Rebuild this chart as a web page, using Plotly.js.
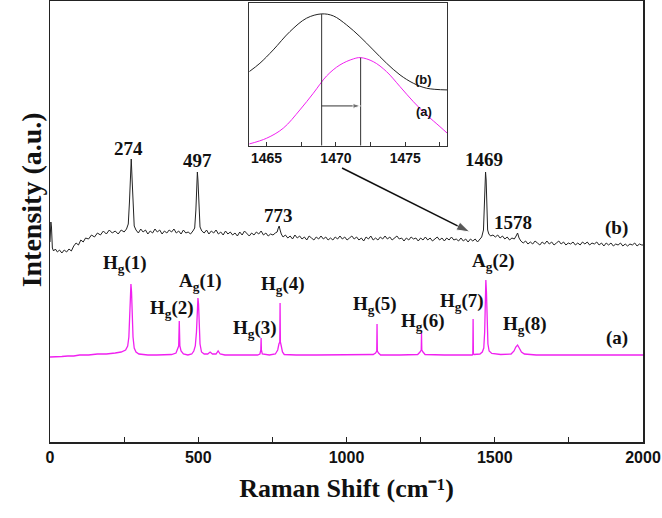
<!DOCTYPE html>
<html>
<head>
<meta charset="utf-8">
<script src="https://cdn.plot.ly/plotly-3.0.1.min.js"></script>
<style>html,body{margin:0;padding:0;background:#fff;}#chart{width:662px;height:518px;}</style>
</head>
<body>
<div id="chart"></div>
<script>
// ---- Main spectrum (b): sample, black ----
const bX = [0,3,5,8,12,18,25,32,40,48,56,64,72,80,88,96,104,112,120,130,140,150,160,170,180,190,200,210,220,230,240,250,258,264,268,271,274,277,280,284,290,298,306,314,322,330,338,346,354,362,370,378,386,394,402,410,418,426,434,442,450,458,466,474,482,488,492,495,497,499,502,506,512,520,528,536,544,552,560,568,576,584,592,600,608,616,624,632,640,648,656,664,672,680,688,696,704,712,720,728,736,744,752,760,766,770,773,776,780,786,794,802,810,818,826,834,842,850,858,866,874,882,890,898,906,914,922,930,938,946,954,962,970,978,986,994,1002,1010,1018,1026,1034,1042,1050,1058,1066,1074,1082,1090,1098,1106,1114,1122,1130,1138,1146,1154,1162,1170,1178,1186,1194,1202,1210,1218,1226,1234,1242,1250,1258,1266,1274,1282,1290,1298,1306,1314,1322,1330,1338,1346,1354,1362,1370,1378,1386,1394,1402,1410,1418,1426,1434,1442,1450,1456,1462,1465,1467,1469,1471,1473,1476,1480,1486,1494,1502,1510,1518,1526,1534,1542,1550,1558,1566,1572,1577,1582,1588,1596,1604,1612,1620,1628,1636,1644,1652,1660,1668,1676,1684,1692,1700,1708,1716,1724,1732,1740,1748,1756,1764,1772,1780,1788,1796,1804,1812,1820,1828,1836,1844,1852,1860,1868,1876,1884,1892,1900,1908,1916,1924,1932,1940,1948,1956,1964,1972,1980,1988,1996,2000];
const bY = [200,220,215,194,191,193,190,192,189,192,190,193,191,196,199,197,202,200,204,203,207,205,209,207,211,208,212,209,211,208,212,210,213,218,240,268,283,262,232,216,212,209,213,210,212,208,211,209,213,210,212,208,211,209,212,210,213,209,211,208,212,209,210,208,211,214,232,262,270,262,232,215,211,209,212,208,211,209,212,208,210,207,211,208,210,207,209,206,210,207,211,208,206,209,207,210,208,211,207,209,206,208,207,209,210,214,216,212,208,205,207,204,206,203,207,204,206,203,205,202,206,204,202,205,203,206,203,205,202,204,202,205,203,206,203,205,202,204,206,203,205,202,204,201,205,203,206,202,204,202,205,203,206,203,205,202,204,206,203,204,201,204,202,205,203,204,201,204,202,205,202,204,201,203,205,202,204,201,204,202,205,202,203,201,204,201,203,200,203,201,203,200,203,205,212,240,265,270,262,235,212,208,206,207,205,207,204,206,203,205,202,204,203,206,209,204,201,199,201,198,200,198,201,199,197,200,198,201,198,200,197,199,201,198,200,197,199,198,200,197,199,197,200,198,200,197,199,198,200,197,199,196,199,197,199,196,198,197,199,196,198,196,198,197,199,196,198,197,197];

// ---- Main spectrum (a): reference, magenta ----
const aX = [0,20,40,60,80,100,130,160,190,220,240,255,262,266,269,271,273,275,277,280,284,290,300,330,360,390,410,425,430,434,436,438,442,450,465,478,485,490,494,497,499,501,503,506,511,520,532,540,548,560,567,574,590,620,660,700,708,711,712,713,716,740,760,768,772,775,776,777,780,784,790,830,900,980,1050,1090,1098,1102,1103,1104,1108,1115,1180,1240,1248,1252,1253,1254,1258,1265,1330,1400,1424,1426,1427,1428,1430,1450,1458,1463,1466,1468,1470,1472,1474,1477,1481,1490,1520,1555,1565,1571,1577,1583,1590,1600,1640,1700,1800,1900,2000];
const aY = [85,85,85.5,86,86,87,87,88,88,89,90,92,96,105,125,148,158,150,128,105,94,90,88,87,87,87,87.5,89,92,96,121,96,91,88,87,88,91,96,110,135,144,138,115,98,90,88,88,90,88,88,91,88,87,87,87,87,88,92,104,92,88,87,88,92,98,100,139,100,96,90,87.5,87,87,87,87,87.5,89,91,118,91,89,87,87,87.5,90,92,109,92,90,87.5,87,87,87,88,123,88,87.5,88,90,94,110,140,162,150,118,98,91,88.5,87.5,88,91,95,97,94,90,88,87,87,87,87,87];

// ---- Inset: zoom around the 1469 cm-1 band ----
const inBX = [1463.75,1464.52,1465.48,1466.68,1467.88,1468.97,1469.81,1470.77,1471.73,1472.69,1473.65,1474.62,1475.58,1476.54,1478.03];
const inBY = [74,82.4,95.7,114,127.4,131.7,129.7,120.7,109,95.7,82.4,70.7,62.4,57.4,55.7];
const inAX = [1463.75,1465,1466.2,1467.4,1468.37,1469.33,1470.29,1471.25,1471.78,1472.69,1473.65,1474.62,1475.58,1476.54,1477.5,1478.03];
const inAY = [1.7,7.4,17.4,35.7,52.4,69.7,80.7,86.7,88,84,74,59,44,30.7,19,12.4];
const peakPosB = 1468.97, peakTopB = 131.7;
const peakPosA = 1471.78, peakTopA = 88;
const shiftLineY = 39.7;

// ---- Tick labels ----
const xTickVals = [0,500,1000,1500,2000];
const xTickText = ['0','500','1000','1500','2000'];
const inTickVals = [1465,1470,1475];
const inTickText = ['1465','1470','1475'];

// ---- Peak labels ----
const bLabels = [
  {t:'274', x:266, y:294}, {t:'497', x:496, y:282}, {t:'773', x:772, y:227},
  {t:'1469', x:1464, y:283}, {t:'1578', x:1561, y:220}, {t:'(b)', x:1912, y:214}
];
const aLabels = [
  {t:'H<sub>g</sub>(1)', x:253, y:178}, {t:'H<sub>g</sub>(2)', x:410, y:133},
  {t:'A<sub>g</sub>(1)', x:506, y:160}, {t:'H<sub>g</sub>(3)', x:691, y:113},
  {t:'H<sub>g</sub>(4)', x:787, y:157}, {t:'H<sub>g</sub>(5)', x:1096, y:137},
  {t:'H<sub>g</sub>(6)', x:1259, y:120}, {t:'H<sub>g</sub>(7)', x:1388, y:140},
  {t:'A<sub>g</sub>(2)', x:1495, y:180}, {t:'H<sub>g</sub>(8)', x:1602, y:117},
  {t:'(a)', x:1911, y:104}
];
const inLabels = [{t:'(b)', x:1477.1, y:65.7}, {t:'(a)', x:1477.1, y:34}];
const arrowX = [985, 1416], arrowY = [274, 210];

const serif = {family:'Liberation Serif, Times New Roman, serif', color:'#111', weight:'bold'};
const sans = {family:'Liberation Sans, Arial, sans-serif', color:'#111', weight:'bold'};
const LABEL_SIZE = 19;

const traces = [
  {x:bX, y:bY, type:'scatter', mode:'lines', line:{color:'#222', width:1}, xaxis:'x', yaxis:'y', hoverinfo:'skip'},
  {x:aX, y:aY, type:'scatter', mode:'lines', line:{color:'#f020f0', width:1.3}, xaxis:'x', yaxis:'y', hoverinfo:'skip'},
  {x:inBX, y:inBY, type:'scatter', mode:'lines', line:{color:'#222', width:1, shape:'spline'}, xaxis:'x2', yaxis:'y2'},
  {x:inAX, y:inAY, type:'scatter', mode:'lines', line:{color:'#f020f0', width:1, shape:'spline'}, xaxis:'x2', yaxis:'y2'},
  {x:[peakPosB, peakPosB], y:[0, peakTopB], type:'scatter', mode:'lines', line:{color:'#333', width:1}, xaxis:'x2', yaxis:'y2'},
  {x:[peakPosA, peakPosA], y:[0, peakTopA], type:'scatter', mode:'lines', line:{color:'#333', width:1}, xaxis:'x2', yaxis:'y2'},
  // shift arrow inside inset
  {x:[peakPosB, peakPosA], y:[shiftLineY, shiftLineY], type:'scatter', mode:'lines+markers', line:{color:'#333', width:1},
   marker:{symbol:['circle','arrow'], size:[0,8], color:'#333', angleref:'previous'}, xaxis:'x2', yaxis:'y2'},
  // big arrow from inset to the 1469 band
  {x:arrowX, y:arrowY, type:'scatter', mode:'lines+markers', line:{color:'#111', width:1.6},
   marker:{symbol:['circle','arrow'], size:[0,14], color:'#111', angleref:'previous'}, xaxis:'x', yaxis:'y'}
];

const annotations = [];
bLabels.forEach(l => annotations.push({text:l.t, x:l.x, y:l.y, xref:'x', yref:'y', showarrow:false, font:Object.assign({size:LABEL_SIZE}, serif)}));
aLabels.forEach(l => annotations.push({text:l.t, x:l.x, y:l.y, xref:'x', yref:'y', showarrow:false, font:Object.assign({size:LABEL_SIZE}, serif)}));
inLabels.forEach(l => annotations.push({text:l.t, x:l.x, y:l.y, xref:'x2', yref:'y2', xanchor:'right', showarrow:false, font:Object.assign({size:13}, sans)}));
annotations.push({text:'Intensity (a.u.)', xref:'paper', yref:'paper', x:-0.06, y:0.55, textangle:-90, showarrow:false, font:Object.assign({size:28}, serif)});

const layout = {
  width:662, height:518,
  margin:{l:50, r:19, t:1, b:76},
  paper_bgcolor:'#fff', plot_bgcolor:'#fff',
  showlegend:false,
  xaxis:{range:[0,2000], tickvals:xTickVals, ticktext:xTickText, ticks:'inside', ticklen:5, tickwidth:1.2, tickcolor:'#222',
         minor:{ticks:'inside', ticklen:5, tickwidth:1.2, tickcolor:'#222', dtick:250, tick0:0, showgrid:false},
         showline:true, linecolor:'#222', linewidth:1.5, mirror:true, showgrid:false, zeroline:false,
         tickfont:Object.assign({size:16}, sans),
         title:{text:'Raman Shift (cm\u207B\u00B9)', font:Object.assign({size:26}, serif), standoff:14}},
  yaxis:{range:[0,441], showticklabels:false, ticks:'', showline:true, linecolor:'#222', linewidth:1.5, mirror:true, showgrid:false, zeroline:false},
  xaxis2:{domain:[0.336,0.670], anchor:'y2', range:[1463.75,1478.03], tickvals:inTickVals, ticktext:inTickText, ticks:'inside', ticklen:4, tickcolor:'#333',
          minor:{ticks:'inside', ticklen:4, tickcolor:'#333', dtick:2.5, tick0:1465, showgrid:false},
          showline:true, linecolor:'#333', linewidth:1, mirror:true, showgrid:false, zeroline:false, tickfont:Object.assign({size:14}, sans)},
  yaxis2:{domain:[0.672,0.995], anchor:'x2', range:[0,142.4], showticklabels:false, ticks:'', showline:true, linecolor:'#333', linewidth:1, mirror:true, showgrid:false, zeroline:false},
  annotations:annotations
};

Plotly.newPlot('chart', traces, layout, {staticPlot:true, displayModeBar:false}).then(gd => {
  const svgTexts = gd.querySelectorAll('text');
  // subscripts: explicit pixel sizes
  gd.querySelectorAll('text tspan').forEach(ts => {
    const st = ts.getAttribute('style') || '';
    if (/font-size:\s*70%/.test(st)) {
      ts.setAttribute('style', st.replace(/font-size:\s*70%/, 'font-size:' + (LABEL_SIZE * 0.7).toFixed(1) + 'px'));
    }
  });
  // baseline-reset tspan carries the text that follows the subscript
  gd.querySelectorAll('text tspan').forEach(ts => {
    if (ts.textContent === '\u200b') {
      const nxt = ts.nextSibling;
      if (nxt && nxt.textContent) {
        ts.textContent = nxt.textContent;
        nxt.parentNode.removeChild(nxt);
      }
    }
  });
  // drop leftover zero-width-space text runs
  svgTexts.forEach(t => {
    const walker = document.createTreeWalker(t, NodeFilter.SHOW_TEXT);
    const nodes = [];
    while (walker.nextNode()) nodes.push(walker.currentNode);
    nodes.forEach(n => {
      if (n.data.indexOf('\u200b') >= 0) {
        n.data = n.data.replace(/\u200b/g, '');
        if (!n.data.length) n.parentNode.removeChild(n);
      }
    });
  });
});
</script>
</body>
</html>
